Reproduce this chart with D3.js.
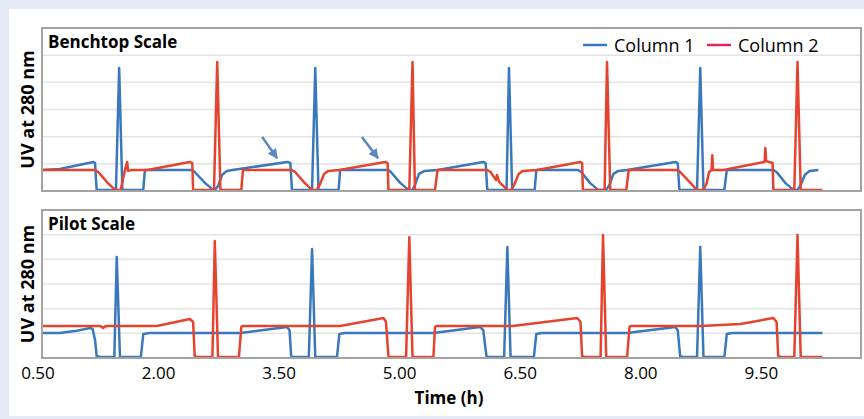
<!DOCTYPE html>
<html>
<head>
<meta charset="utf-8">
<script src="https://cdn.jsdelivr.net/npm/d3@7"></script>
<style>
  body { margin: 0; background: #e4eaf5; }
  svg { display: block; font-family: "Open Sans", "Noto Sans", sans-serif; }
</style>
</head>
<body>
<div id="chart"></div>
<script>
// time (h), UV reading
const benchCol1 = [
  [0.56,0.77],[0.77,0.81],[1.19,1.07],[1.21,1.03],[1.23,0.04],[1.47,0.04],[1.51,4.53],[1.55,0.04],
  [1.81,0.04],[1.83,0.77],[2.42,0.77],[2.45,0.70],[2.58,0.29],[2.68,0.04],[2.70,0.04],[2.74,0.18],
  [2.79,0.59],[2.85,0.74],[2.92,0.77],[3.60,1.07],[3.64,1.03],[3.66,0.04],[3.91,0.04],[3.95,4.53],
  [3.99,0.04],[4.24,0.04],[4.26,0.77],[4.86,0.77],[4.89,0.70],[5.01,0.29],[5.11,0.04],[5.16,0.04],
  [5.19,0.22],[5.24,0.63],[5.31,0.74],[5.47,0.77],[6.04,1.07],[6.07,1.03],[6.09,0.04],[6.33,0.04],
  [6.36,4.53],[6.40,0.04],[6.68,0.04],[6.70,0.77],[7.22,0.77],[7.26,0.70],[7.37,0.29],[7.47,0.04],
  [7.57,0.04],[7.61,0.22],[7.66,0.63],[7.72,0.74],[7.83,0.77],[8.43,1.07],[8.46,1.03],[8.48,0.04],
  [8.70,0.04],[8.74,4.53],[8.78,0.04],[9.04,0.04],[9.07,0.77],[9.65,0.77],[9.69,0.70],[9.80,0.29],
  [9.90,0.04],[9.95,0.04],[9.99,0.22],[10.04,0.59],[10.10,0.74],[10.21,0.77]
];
const benchCol2 = [
  [0.56,0.77],[1.21,0.77],[1.25,0.70],[1.37,0.29],[1.46,0.04],[1.53,0.04],[1.56,0.48],[1.58,0.74],
  [1.61,1.07],[1.62,0.74],[1.67,0.77],[1.86,0.77],[2.39,1.07],[2.42,1.03],[2.43,0.04],[2.69,0.04],
  [2.73,4.75],[2.77,0.04],[3.03,0.04],[3.05,0.77],[3.66,0.77],[3.70,0.70],[3.82,0.29],[3.91,0.04],
  [3.97,0.04],[4.01,0.26],[4.06,0.63],[4.11,0.74],[4.25,0.77],[4.82,1.07],[4.85,1.03],[4.86,0.04],
  [5.12,0.04],[5.16,4.75],[5.19,0.04],[5.44,0.04],[5.47,0.77],[6.09,0.77],[6.13,0.70],[6.20,0.40],
  [6.21,0.59],[6.24,0.33],[6.34,0.04],[6.39,0.04],[6.43,0.26],[6.48,0.63],[6.53,0.74],[6.71,0.77],
  [7.25,1.07],[7.27,1.03],[7.28,0.04],[7.55,0.04],[7.58,4.75],[7.62,0.04],[7.82,0.04],[7.85,0.77],
  [8.46,0.77],[8.49,0.70],[8.62,0.29],[8.70,0.04],[8.78,0.04],[8.82,0.29],[8.85,0.70],[8.88,0.77],
  [8.89,1.32],[8.90,0.77],[9.03,0.77],[9.54,1.07],[9.55,1.58],[9.56,1.10],[9.64,1.03],[9.65,0.04],
  [9.91,0.04],[9.95,4.75],[9.99,0.04],[10.26,0.04]
];
const pilotCol1 = [
  [0.56,1.01],[0.77,1.01],[0.96,1.09],[1.15,1.22],[1.18,1.18],[1.21,0.73],[1.23,0.08],[1.27,0.04],
  [1.45,0.04],[1.48,4.09],[1.52,0.04],[1.78,0.04],[1.81,0.97],[1.89,1.01],[3.02,1.01],[3.60,1.26],
  [3.63,1.13],[3.65,0.08],[3.67,0.04],[3.87,0.04],[3.91,4.42],[3.95,0.04],[4.22,0.04],[4.25,0.97],
  [4.32,1.01],[5.42,1.01],[6.00,1.26],[6.04,1.13],[6.08,0.08],[6.10,0.04],[6.30,0.04],[6.34,4.50],
  [6.38,0.04],[6.67,0.04],[6.70,0.97],[6.77,1.01],[7.83,1.01],[8.43,1.26],[8.46,1.13],[8.49,0.08],
  [8.52,0.04],[8.70,0.04],[8.74,4.50],[8.78,0.04],[9.04,0.04],[9.07,0.97],[9.14,1.01],[10.26,1.01]
];
const pilotCol2 = [
  [0.56,1.30],[1.27,1.30],[1.31,1.22],[1.35,1.30],[1.98,1.30],[2.39,1.58],[2.43,1.46],[2.45,0.08],
  [2.48,0.04],[2.67,0.04],[2.70,4.74],[2.74,0.04],[3.00,0.04],[3.03,1.26],[3.05,1.30],[4.26,1.30],
  [4.80,1.62],[4.83,1.46],[4.86,0.08],[4.88,0.04],[5.08,0.04],[5.12,4.90],[5.16,0.04],[5.42,0.04],
  [5.44,1.26],[5.47,1.30],[6.41,1.30],[7.21,1.62],[7.25,1.46],[7.27,0.08],[7.30,0.04],[7.50,0.04],
  [7.53,4.99],[7.57,0.04],[7.83,0.04],[7.86,1.26],[7.88,1.30],[8.74,1.30],[9.24,1.38],[9.65,1.62],
  [9.69,1.46],[9.71,0.08],[9.74,0.04],[9.91,0.04],[9.95,4.99],[9.99,0.04],[10.26,0.04]
];
const xTicks = [0.5, 2.0, 3.5, 5.0, 6.5, 8.0, 9.5];
const gridValues = [1, 2, 3, 4, 5];
const seriesNames = ["Column 1", "Column 2"];
// arrows in the benchtop panel: [tail, tip]
const arrows = [
  [[3.29, 1.99], [3.475, 1.21]],
  [[4.53, 1.99], [4.73, 1.21]]
];

const width = 864, height = 419;
const blue = "#3a78bd", red = "#e6432f", legendRed = "#e0265a";

const svg = d3.select("#chart").append("svg")
  .attr("width", width).attr("height", height);

svg.append("rect").attr("width", width).attr("height", height).attr("fill", "#e4eaf5");
svg.append("rect").attr("x", 9).attr("y", 9).attr("width", width - 9).attr("height", 407).attr("fill", "#fff");

const x = d3.scaleLinear().domain([0.55, 10.74]).range([42, 861]);

const panels = [
  { title: "Benchtop Scale", top: 28, bottom: 191, c1: benchCol1, c2: benchCol2 },
  { title: "Pilot Scale", top: 210, bottom: 358, c1: pilotCol1, c2: pilotCol2 }
];

panels.forEach((p, i) => {
  const y = d3.scaleLinear().domain([0, 6]).range([p.bottom, p.top]);
  const g = svg.append("g");

  // grid
  g.selectAll("line.grid").data(gridValues).enter().append("line")
    .attr("x1", x.range()[0]).attr("x2", x.range()[1])
    .attr("y1", d => y(d)).attr("y2", d => y(d))
    .attr("stroke", "#e4e4e4").attr("stroke-width", 1.5);

  const line = d3.line().x(d => x(d[0])).y(d => y(d[1]));

  g.append("path").datum(p.c1).attr("d", line)
    .attr("fill", "none").attr("stroke", blue).attr("stroke-width", 2.5)
    .attr("stroke-linejoin", "round");
  g.append("path").datum(p.c2).attr("d", line)
    .attr("fill", "none").attr("stroke", red).attr("stroke-width", 2.5)
    .attr("stroke-linejoin", "round");

  // frame
  g.append("rect")
    .attr("x", x.range()[0]).attr("y", p.top)
    .attr("width", x.range()[1] - x.range()[0]).attr("height", p.bottom - p.top)
    .attr("fill", "none").attr("stroke", "#a3a3a3").attr("stroke-width", 2);

  g.append("text").attr("x", 48).attr("y", p.top + 20)
    .attr("font-weight", "bold").attr("font-size", "17px").text(p.title);

  g.append("text")
    .attr("transform", `translate(34,${(p.top + p.bottom) / 2}) rotate(-90)`)
    .attr("text-anchor", "middle").attr("font-weight", "bold").attr("font-size", "18px")
    .text("UV at 280 nm");

  if (i === 0) {
    const marker = svg.append("defs").append("marker")
      .attr("id", "head").attr("viewBox", "0 0 10 10").attr("refX", 9).attr("refY", 5)
      .attr("markerWidth", 4).attr("markerHeight", 4).attr("orient", "auto");
    marker.append("path").attr("d", "M0,0L10,5L0,10Z").attr("fill", "#5b88bd");
    g.selectAll("line.arrow").data(arrows).enter().append("line")
      .attr("x1", d => x(d[0][0])).attr("y1", d => y(d[0][1]))
      .attr("x2", d => x(d[1][0])).attr("y2", d => y(d[1][1]))
      .attr("stroke", "#5b88bd").attr("stroke-width", 2.5)
      .attr("marker-end", "url(#head)");

    // legend
    const leg = g.append("g").attr("transform", "translate(583,45)");
    const colors = [blue, legendRed];
    seriesNames.forEach((name, k) => {
      const lg = leg.append("g").attr("transform", `translate(${k * 124},0)`);
      lg.append("line").attr("x1", 0).attr("x2", 24).attr("y1", 0).attr("y2", 0)
        .attr("stroke", colors[k]).attr("stroke-width", 2.5);
      lg.append("text").attr("x", 31).attr("y", 7).attr("font-size", "18px").text(name);
    });
  }
});

// x axis labels
const fmt = d3.format(".2f");
svg.selectAll("text.tick").data(xTicks).enter().append("text")
  .attr("class", "tick")
  .attr("x", d => x(d)).attr("y", 379)
  .attr("text-anchor", "middle").attr("font-size", "17px")
  .text(d => fmt(d));

svg.append("text").attr("x", 449).attr("y", 404)
  .attr("text-anchor", "middle").attr("font-weight", "bold").attr("font-size", "17px")
  .text("Time (h)");
</script>
</body>
</html>
